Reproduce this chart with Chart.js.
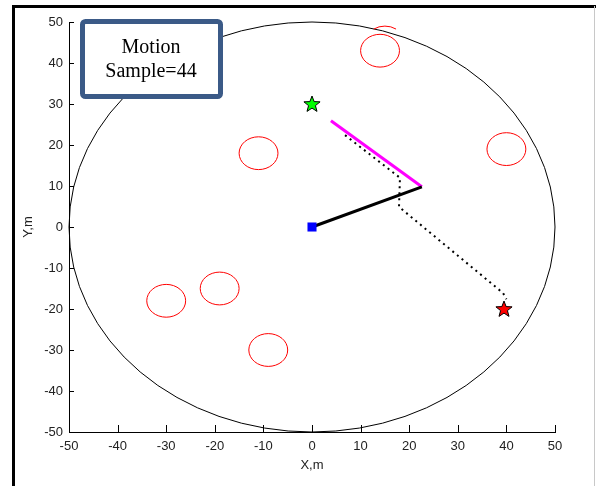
<!DOCTYPE html>
<html>
<head>
<meta charset="utf-8">
<script src="https://cdn.jsdelivr.net/npm/chart.js"></script>
<style>
  html, body { margin: 0; padding: 0; background: #fff; }
  #wrap { width: 596px; height: 486px; }
</style>
</head>
<body>
<div id="wrap"><canvas id="motion" width="596" height="486"></canvas></div>
<script>
// Tick values on both axes
const tickValues = [-50, -40, -30, -20, -10, 0, 10, 20, 30, 40, 50];

// Boundary circle and obstacles: [x, y, radius]
const boundary = [0, 0, 50];
const obstacles = [
    [14, 43, 4],
    [-11, 18, 4],
    [40, 19, 4],
    [-30, -18, 4],
    [-19, -15, 4],
    [-9, -30, 4]
];
// Small obstacle piece peeking above the boundary: [x, y, radius, startDeg, endDeg]
const obstacleArcs = [
    [15, 45, 4, 55, 125]
];

// Robot path
const pathX = [6.8, 18.1, 17.9, 39.3, 40.0];
const pathY = [22.4, 12.0, 4.9, -16.1, -17.6];

// Arm segments
const armX = [0, 22.6];
const armY = [0, 9.8];
const linkX = [3.9, 22.6];
const linkY = [25.9, 9.8];

// Markers
const startPoint = { x: 0, y: 30 };
const goalPoint = { x: 39.5, y: -20 };
const basePoint = { x: 0, y: 0 };

const sampleNo = 44;

function pts(xs, ys) {
    return xs.map((x, i) => ({ x: x, y: ys[i] }));
}

function makeStar(fill) {
    const c = document.createElement('canvas');
    c.width = 20; c.height = 20;
    const g = c.getContext('2d');
    g.beginPath();
    for (let i = 0; i < 10; i++) {
        const r = i % 2 === 0 ? 8.5 : 3.6;
        const a = -Math.PI / 2 + i * Math.PI / 5;
        const px = 10 + r * Math.cos(a), py = 10.5 + r * Math.sin(a);
        if (i === 0) g.moveTo(px, py); else g.lineTo(px, py);
    }
    g.closePath();
    g.fillStyle = fill;
    g.fill();
    g.lineWidth = 1;
    g.strokeStyle = '#000';
    g.stroke();
    return c;
}

const sceneryPlugin = {
    id: 'scenery',
    beforeDatasetsDraw(chart) {
        const { ctx, scales: { x, y } } = chart;
        const ell = (cx, cy, r, a0, a1) => {
            const px = x.getPixelForValue(cx), py = y.getPixelForValue(cy);
            const rx = Math.abs(x.getPixelForValue(cx + r) - px);
            const ry = Math.abs(y.getPixelForValue(cy + r) - py);
            ctx.beginPath();
            ctx.ellipse(px, py, rx, ry, 0, a0, a1);
            ctx.stroke();
        };
        ctx.save();
        ctx.lineWidth = 1;
        ctx.strokeStyle = '#000';
        ell(boundary[0], boundary[1], boundary[2], 0, Math.PI * 2);
        ctx.strokeStyle = '#ff0000';
        obstacles.forEach(o => ell(o[0], o[1], o[2], 0, Math.PI * 2));
        obstacleArcs.forEach(o => ell(o[0], o[1], o[2], -o[4] * Math.PI / 180, -o[3] * Math.PI / 180));
        ctx.restore();
    },
    afterDraw(chart) {
        const { ctx, scales: { x, y }, chartArea } = chart;
        ctx.save();
        // inward ticks
        ctx.strokeStyle = '#000';
        ctx.lineWidth = 1;
        ctx.beginPath();
        tickValues.forEach(v => {
            const px = Math.round(x.getPixelForValue(v)) + 0.5;
            ctx.moveTo(px, chartArea.bottom);
            ctx.lineTo(px, chartArea.bottom - 7);
            const py = Math.round(y.getPixelForValue(v)) + 0.5;
            ctx.moveTo(chartArea.left, py);
            ctx.lineTo(chartArea.left + 5, py);
        });
        ctx.stroke();

        // annotation box
        ctx.fillStyle = '#fff';
        ctx.strokeStyle = '#3b5a87';
        ctx.lineWidth = 5;
        ctx.beginPath();
        ctx.roundRect(82.5, 21.5, 138, 75, 3);
        ctx.fill();
        ctx.stroke();
        ctx.fillStyle = '#000';
        ctx.font = '20px "Liberation Serif", "Times New Roman", serif';
        ctx.textAlign = 'center';
        ctx.textBaseline = 'middle';
        ctx.fillText('Motion', 151, 48);
        ctx.fillText('Sample=' + sampleNo, 151, 72);

        // outer frame
        ctx.strokeStyle = '#000';
        ctx.lineWidth = 3;
        ctx.beginPath();
        ctx.moveTo(13.5, 490);
        ctx.lineTo(13.5, 6.5);
        ctx.lineTo(596, 6.5);
        ctx.stroke();
        ctx.strokeStyle = '#c8c8c8';
        ctx.lineWidth = 1;
        ctx.beginPath();
        ctx.moveTo(594.5, 6);
        ctx.lineTo(594.5, 486);
        ctx.stroke();
        ctx.restore();
    }
};

const tickFont = { family: '"Liberation Sans Narrow", "Liberation Sans", Arial, sans-serif', size: 13 };

const config = {
    type: 'scatter',
    data: {
        datasets: [
            {
                label: 'Base',
                data: [basePoint],
                pointStyle: 'rect',
                pointRadius: 6.4,
                backgroundColor: '#0000ff',
                borderColor: '#0000ff',
                borderWidth: 0,
                order: 0
            },
            {
                label: 'Start',
                data: [startPoint],
                pointStyle: makeStar('#00ff00'),
                order: 0
            },
            {
                label: 'Goal',
                data: [goalPoint],
                pointStyle: makeStar('#ff0000'),
                order: 0
            },
            {
                label: 'Arm',
                data: pts(armX, armY),
                showLine: true,
                borderColor: '#000',
                borderWidth: 3,
                pointRadius: 0,
                order: 1
            },
            {
                label: 'Link',
                data: pts(linkX, linkY),
                showLine: true,
                borderColor: '#ff00ff',
                borderWidth: 3,
                pointRadius: 0,
                order: 2
            },
            {
                label: 'Path',
                data: pts(pathX, pathY),
                showLine: true,
                borderColor: '#000',
                borderWidth: 2,
                borderDash: [2, 4],
                pointRadius: 0,
                order: 3
            }
        ]
    },
    options: {
        responsive: false,
        animation: false,
        events: [],
        layout: { padding: { left: 0, top: 22, right: 41, bottom: 0 } },
        plugins: {
            legend: { display: false },
            tooltip: { enabled: false }
        },
        scales: {
            x: {
                type: 'linear',
                min: -50, max: 50,
                afterFit: s => { s.height = 54; },
                afterBuildTicks: s => { s.ticks = tickValues.map(v => ({ value: v })); },
                grid: { display: false, drawTicks: false },
                border: { display: true, color: '#000', width: 1 },
                ticks: { font: tickFont, color: '#222', padding: 7, maxRotation: 0 },
                title: { display: true, text: 'X,m', font: tickFont, color: '#222', padding: { top: 0, bottom: 13 } }
            },
            y: {
                type: 'linear',
                min: -50, max: 50,
                afterFit: s => { s.width = 69; },
                afterBuildTicks: s => { s.ticks = tickValues.map(v => ({ value: v })); },
                grid: { display: false, drawTicks: false },
                border: { display: true, color: '#000', width: 1 },
                ticks: { font: tickFont, color: '#222', padding: 6 },
                title: { display: true, text: 'Y,m', font: tickFont, color: '#222', padding: { top: 21, bottom: 0 } }
            }
        }
    },
    plugins: [sceneryPlugin]
};

new Chart(document.getElementById('motion'), config);
</script>
</body>
</html>
